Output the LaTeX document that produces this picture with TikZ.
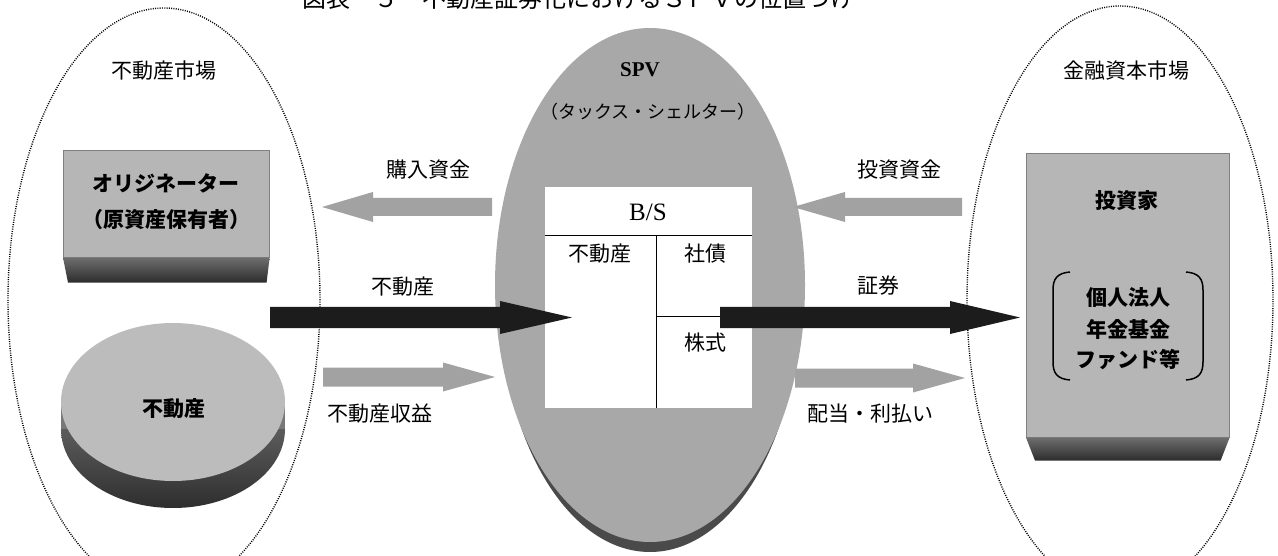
\documentclass[tikz,border=0pt]{standalone}
\usepackage{fontspec}
\setmainfont{Noto Sans CJK JP}
\newfontfamily\serifrm{Liberation Serif}
\usetikzlibrary{calc,shapes.geometric}
\definecolor{spvgray}{HTML}{A8A8A8}
\definecolor{spvdark}{HTML}{4A4A4A}
\definecolor{boxgray}{HTML}{B6B6B6}
\definecolor{bandtop}{HTML}{6E6E6E}
\definecolor{bandbot}{HTML}{2C2C2C}
\definecolor{arrowgray}{HTML}{A2A2A2}
\definecolor{arrowdark}{HTML}{1C1C1C}
\definecolor{diskface}{HTML}{BCBCBC}
\definecolor{disksidetop}{HTML}{8A8A8A}
\definecolor{disksidebot}{HTML}{2E2E2E}
% block arrow: #1 style, #2 tail coord, #3 tip coord, #4 shaft half width, #5 head half width, #6 head length
\newcommand\blockarrow[6]{%
  \coordinate (abase) at ($(#3)!#6!(#2)$);
  \fill[#1] ($(#2)!#4!90:(#3)$) -- ($(abase)!#4!-90:(#2)$) -- ($(abase)!#5!-90:(#2)$) -- (#3)
    -- ($(abase)!#5!90:(#2)$) -- ($(abase)!#4!90:(#2)$) -- ($(#2)!#4!-90:(#3)$) -- cycle;}
\begin{document}
\begin{tikzpicture}[x=1pt,y=-1pt,
  lbl/.style={inner sep=0pt, font=\fontsize{21}{25}\selectfont},
  boxlbl/.style={inner sep=0pt, font=\fontsize{21}{25}\selectfont\bfseries},
  market/.style={ellipse, draw=black, line width=1.4pt, dash pattern=on 1pt off 1.3pt, inner sep=0pt},
  facebox/.style={rectangle, fill=boxgray, draw=gray, line width=0.6pt, inner sep=0pt, anchor=north west},
  lightarrow/.style={fill=arrowgray},
  darkarrow/.style={fill=arrowdark},
  rule/.style={draw=black, line width=1pt},
  bracket/.style={draw=black, line width=1.5pt}]
\useasboundingbox (0,0) rectangle (1278,556);
\clip (0,0) rectangle (1278,556);
\fill[white] (0,0) rectangle (1278,556);

% title (cut off at the top, as in the reference)
\node[anchor=base, inner sep=0pt, font=\fontsize{24}{28}\selectfont] (title) at (578,8) {図表－５　不動産証券化におけるＳＰＶの位置づけ};

% market regions
\node[market, minimum width=312pt, minimum height=584pt] (realmkt) at (164,300) {};
\node[market, minimum width=306pt, minimum height=588pt] (finmkt) at (1120,300) {};
\node[lbl] (realmktlbl) at (164,71) {不動産市場};
\node[lbl] (finmktlbl) at (1126,71) {金融資本市場};

% SPV
\node[ellipse, fill=spvdark, inner sep=0pt, minimum width=300pt, minimum height=510pt] (spvshadow) at (650,297) {};
\node[ellipse, fill=spvgray, inner sep=0pt, minimum width=310pt, minimum height=514pt] (spv) at (650,285) {};
\node[inner sep=0pt, font=\serifrm\bfseries\fontsize{21}{25}\selectfont] (spvlbl) at (640,70) {SPV};
\node[inner sep=0pt, font=\fontsize{18}{22}\selectfont] (taxlbl) at (648,112) {（タックス・シェルター）};

% balance sheet
\node[rectangle, fill=white, inner sep=0pt, anchor=north west, minimum width=207pt, minimum height=221pt] (bs) at (545,187) {};
\coordinate (bsl) at (545,236);
\coordinate (bsr) at (752,236);
\coordinate (bsm) at (656,236);
\coordinate (bsmb) at (656,408);
\coordinate (bsh) at (656,317);
\coordinate (bshr) at (752,317);
\draw[rule] (bsl) -- (bsr);
\draw[rule] (bsm) -- (bsmb);
\draw[rule] (bsh) -- (bshr);
\node[inner sep=0pt, font=\serifrm\fontsize{25}{28}\selectfont] (bslbl) at (648,212) {B/S};
\node[lbl] (bsasset) at (600,254) {不動産};
\node[lbl] (bsbond) at (705,254) {社債};
\node[lbl] (bsstock) at (705,343) {株式};

% originator box
\node[facebox, minimum width=206pt, minimum height=107pt] (orig) at (63,150) {};
\shade[top color=bandtop, bottom color=bandbot] (orig.south west) -- (orig.south east) -- ($(orig.south east)+(-3,25)$) -- ($(orig.south west)+(5,25)$) -- cycle;
\node[boxlbl] (orig1) at (166,183) {オリジネーター};
\node[boxlbl] (orig2) at (166,220) {（原資産保有者）};

% real estate disk
\node[ellipse, inner sep=0pt, minimum width=224pt, minimum height=158pt, top color=disksidetop, bottom color=disksidebot] (diskbottom) at (173,429) {};
\fill[disksidetop!80!disksidebot] (61,402) rectangle (285,429);
\node[ellipse, fill=diskface, inner sep=0pt, minimum width=224pt, minimum height=158pt] (disk) at (173,402) {};
\node[boxlbl] (disklbl) at (174,409) {不動産};

% investor box
\node[facebox, minimum width=203pt, minimum height=284pt] (inv) at (1026,153) {};
\shade[top color=bandtop, bottom color=bandbot] (inv.south west) -- (inv.south east) -- ($(inv.south east)+(-9,23)$) -- ($(inv.south west)+(9,23)$) -- cycle;
\node[boxlbl] (invlbl) at (1127,201) {投資家};
\node[boxlbl] (inv1) at (1128,298) {個人法人};
\node[boxlbl] (inv2) at (1128,329) {年金基金};
\node[boxlbl] (inv3) at (1128,360) {ファンド等};
\draw[bracket] (1070,272) .. controls (1057,273) and (1053,279) .. (1053,290) -- (1053,362) .. controls (1053,373) and (1057,379) .. (1070,380);
\draw[bracket] (1186,272) .. controls (1199,273) and (1203,279) .. (1203,290) -- (1203,362) .. controls (1203,373) and (1199,379) .. (1186,380);

% arrows
\coordinate (buyS) at (492,207);  \coordinate (buyT) at (322,207);
\coordinate (invS) at (962,207);  \coordinate (invT) at (793,207);
\coordinate (incS) at (323,377);  \coordinate (incT) at (495,377);
\coordinate (divS) at (795,378);  \coordinate (divT) at (965,378);
\coordinate (reS) at (270,317.5); \coordinate (reT) at (572,317.5);
\coordinate (secS) at (720,317.5); \coordinate (secT) at (1020,317.5);
\blockarrow{lightarrow}{buyS}{buyT}{9pt}{15pt}{51pt}
\blockarrow{lightarrow}{invS}{invT}{9pt}{15pt}{52pt}
\blockarrow{lightarrow}{incS}{incT}{9.5pt}{14.5pt}{52pt}
\blockarrow{lightarrow}{divS}{divT}{9.5pt}{14.5pt}{52pt}
\blockarrow{darkarrow}{reS}{reT}{10.5pt}{16.5pt}{72pt}
\blockarrow{darkarrow}{secS}{secT}{10.5pt}{16.5pt}{70pt}

% arrow labels
\node[lbl] (buylbl) at (428,170) {購入資金};
\node[lbl] (invflbl) at (899,170) {投資資金};
\node[lbl] (relbl) at (403,287) {不動産};
\node[lbl] (seclbl) at (878,286) {証券};
\node[lbl] (inclbl) at (380,414) {不動産収益};
\node[lbl] (divlbl) at (870,414) {配当・利払い};
\end{tikzpicture}
\end{document}
